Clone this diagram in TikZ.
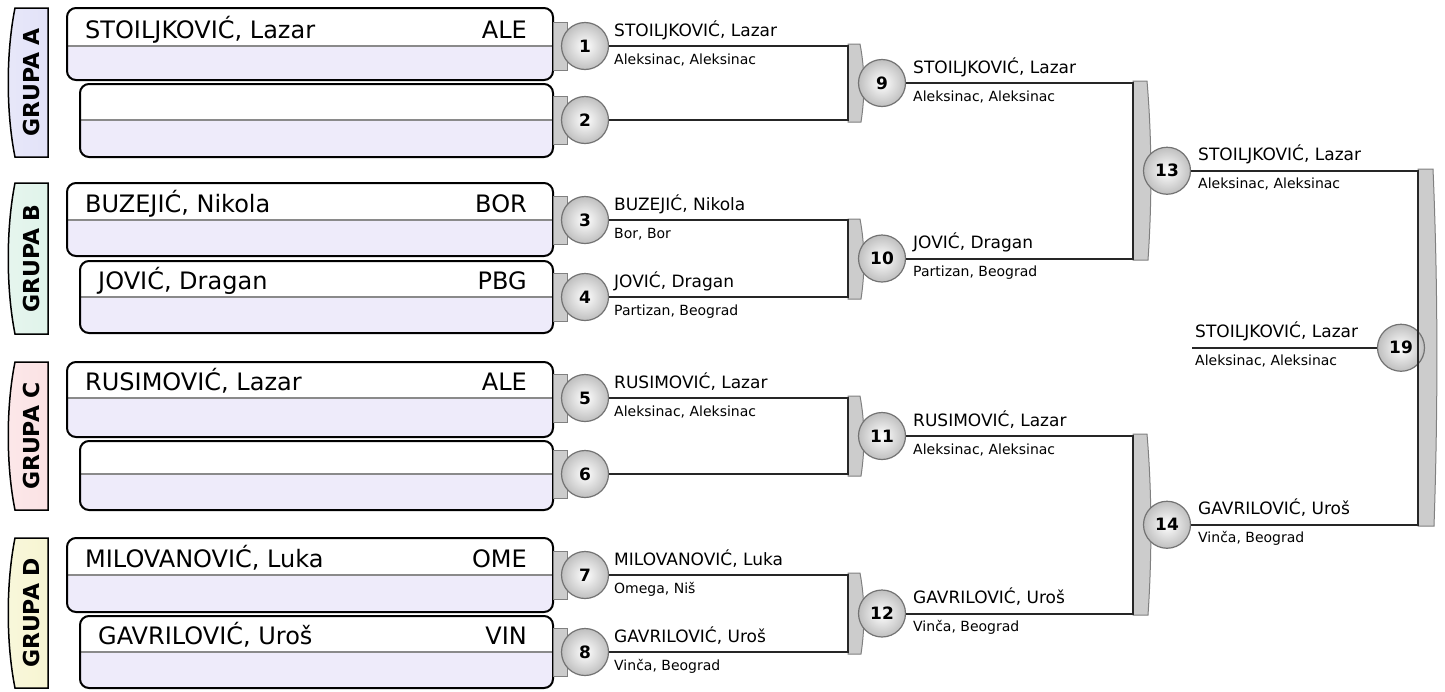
\documentclass[tikz,border=0pt]{standalone}
\usepackage{fontspec}
\setmainfont{DejaVu Sans}
\definecolor{lav}{HTML}{EEEBFA}
\definecolor{grpA}{HTML}{E2E2F8}
\definecolor{grpB}{HTML}{E0F3EA}
\definecolor{grpC}{HTML}{FBE2E4}
\definecolor{grpD}{HTML}{F7F5D2}
\definecolor{divgray}{HTML}{8A8A8A}
\tikzset{
 conn/.style={line width=2pt, draw=black!85},
 ball/.style={circle, minimum size=47pt, inner sep=0pt, draw=black!55, line width=1.2pt, inner color=white, outer color=black!25, font=\fontsize{17}{17}\selectfont\bfseries},
 pname/.style={anchor=base west, inner sep=0pt, font=\fontsize{17}{17}\selectfont},
 ploc/.style={anchor=base west, inner sep=0pt, font=\fontsize{14}{14}\selectfont},
 boxtext/.style={anchor=base west, inner sep=0pt, font=\fontsize{24}{24}\selectfont},
 boxcode/.style={anchor=base east, inner sep=0pt, font=\fontsize{24}{24}\selectfont},
 grplabel/.style={rotate=90, font=\fontsize{22}{22}\selectfont\bfseries, inner sep=0pt},
 grptab/.style={draw=black, line width=1.5pt},
 tabshape/.style={draw=black!50, fill=black!20, line width=1pt},
 pboxline/.style={draw=black, line width=2pt, rounded corners=9pt},
 divider/.style={draw=divgray, line width=1.5pt},
}
% name, xl, y0, yd, y1, text, code
\newcommand{\playerbox}[7]{%
  \begin{scope}
    \clip[rounded corners=9pt] (#2,#3) rectangle (553,#5);
    \fill[white] (#2,#3) rectangle (553,#4);
    \fill[lav] (#2,#4) rectangle (553,#5);
  \end{scope}
  \draw[divider] (#2,#4) -- (553,#4);
  \draw[pboxline] (#2,#3) rectangle (553,#5);
  \node[boxtext] (#1t) at (#2+18,#4-8) {#6};
  \node[boxcode] (#1c) at (527,#4-8) {#7};
  \draw[tabshape] (553,#4-24) rectangle (567,#4+24);
}
% name, ytop, ybot, color, label
\newcommand{\grouptab}[5]{%
  \draw[grptab, left color=#4!80!white, right color=#4] (48,#2) -- (15,#2) .. controls (6,{#2+0.3*(#3-#2)}) and (6,{#2+0.7*(#3-#2)}) .. (15,#3) -- (48,#3) -- cycle;
  \node[grplabel] (#1) at (31,{(#2+#3)/2}) {#5};
}
% x left, ytop, ybot, width
\newcommand{\brackettab}[4]{%
  \draw[tabshape] (#1,#2) -- ({#1+#4-2},#2) .. controls ({#1+#4+3},{#2+0.33*(#3-#2)}) and ({#1+#4+3},{#2+0.67*(#3-#2)}) .. ({#1+#4-1},#3) -- (#1,#3) -- cycle;
}
\begin{document}
\begin{tikzpicture}[x=1pt,y=-1pt]
\useasboundingbox (0,0) rectangle (1445,691);
\fill[white] (0,0) rectangle (1445,691);

% group tabs
\grouptab{gA}{8}{157}{grpA}{GRUPA A}
\grouptab{gB}{183}{334}{grpB}{GRUPA B}
\grouptab{gC}{362}{510}{grpC}{GRUPA C}
\grouptab{gD}{538}{688}{grpD}{GRUPA D}

% player boxes
\playerbox{b1}{67}{8}{46}{80}{STOILJKOVIĆ, Lazar}{ALE}
\playerbox{b2}{80}{84}{120}{157}{}{}
\playerbox{b3}{67}{183}{220}{256}{BUZEJIĆ, Nikola}{BOR}
\playerbox{b4}{80}{261}{297}{333}{JOVIĆ, Dragan}{PBG}
\playerbox{b5}{67}{362}{398}{437}{RUSIMOVIĆ, Lazar}{ALE}
\playerbox{b6}{80}{441}{474}{510}{}{}
\playerbox{b7}{67}{538}{575}{612}{MILOVANOVIĆ, Luka}{OME}
\playerbox{b8}{80}{616}{652}{688}{GAVRILOVIĆ, Uroš}{VIN}

% bracket tabs
\brackettab{848}{44}{122}{14}
\brackettab{848}{219}{299}{14}
\brackettab{848}{396}{476}{14}
\brackettab{848}{573}{654}{14}
\brackettab{1133}{81}{260}{16}
\brackettab{1133}{434}{615}{16}
\brackettab{1418}{169}{526}{17}

% circles
\node[ball] (c1) at (585,46) {1};
\node[ball] (c2) at (585,120) {2};
\node[ball] (c3) at (585,220) {3};
\node[ball] (c4) at (585,297) {4};
\node[ball] (c5) at (585,398) {5};
\node[ball] (c6) at (585,474) {6};
\node[ball] (c7) at (585,575) {7};
\node[ball] (c8) at (585,652) {8};
\node[ball] (c9) at (882,83) {9};
\node[ball] (c10) at (882,258.5) {10};
\node[ball] (c11) at (882,436) {11};
\node[ball] (c12) at (882,613.5) {12};
\node[ball] (c13) at (1167,170.75) {13};
\node[ball] (c14) at (1167,524.75) {14};
\node[ball] (c19) at (1401,347.75) {19};

% junctions
\coordinate (j9a) at (848,46);  \coordinate (j9b) at (848,120);
\coordinate (j10a) at (848,220); \coordinate (j10b) at (848,297);
\coordinate (j11a) at (848,398); \coordinate (j11b) at (848,474);
\coordinate (j12a) at (848,575); \coordinate (j12b) at (848,652);
\coordinate (j13a) at (1133,83);  \coordinate (j13b) at (1133,258.5);
\coordinate (j14a) at (1133,436); \coordinate (j14b) at (1133,613.5);
\coordinate (j19a) at (1418,170.75); \coordinate (j19b) at (1418,524.75);
\coordinate (fin) at (1192,347.75);

% connectors
\draw[conn] (c1) -- (j9a) -- (j9b) -- (c2);
\draw[conn] (c3) -- (j10a) -- (j10b) -- (c4);
\draw[conn] (c5) -- (j11a) -- (j11b) -- (c6);
\draw[conn] (c7) -- (j12a) -- (j12b) -- (c8);
\draw[conn] (c9) -- (j13a) -- (j13b) -- (c10);
\draw[conn] (c11) -- (j14a) -- (j14b) -- (c12);
\draw[conn] (c13) -- (j19a) -- (j19b) -- (c14);
\draw[conn] (fin) -- (c19);

% round 1 labels
\node[pname] (n1) at (614,36) {STOILJKOVIĆ, Lazar};
\node[ploc] (l1) at (614,64) {Aleksinac, Aleksinac};
\node[pname] (n3) at (614,210) {BUZEJIĆ, Nikola};
\node[ploc] (l3) at (614,238) {Bor, Bor};
\node[pname] (n4) at (614,287) {JOVIĆ, Dragan};
\node[ploc] (l4) at (614,315) {Partizan, Beograd};
\node[pname] (n5) at (614,388) {RUSIMOVIĆ, Lazar};
\node[ploc] (l5) at (614,416) {Aleksinac, Aleksinac};
\node[pname] (n7) at (614,565) {MILOVANOVIĆ, Luka};
\node[ploc] (l7) at (614,593) {Omega, Niš};
\node[pname] (n8) at (614,642) {GAVRILOVIĆ, Uroš};
\node[ploc] (l8) at (614,670) {Vinča, Beograd};

% round 2 labels
\node[pname] (n9) at (913,73) {STOILJKOVIĆ, Lazar};
\node[ploc] (l9) at (913,101) {Aleksinac, Aleksinac};
\node[pname] (n10) at (913,248.5) {JOVIĆ, Dragan};
\node[ploc] (l10) at (913,276.5) {Partizan, Beograd};
\node[pname] (n11) at (913,426) {RUSIMOVIĆ, Lazar};
\node[ploc] (l11) at (913,454) {Aleksinac, Aleksinac};
\node[pname] (n12) at (913,603.5) {GAVRILOVIĆ, Uroš};
\node[ploc] (l12) at (913,631.5) {Vinča, Beograd};

% round 3 labels
\node[pname] (n13) at (1198,160.75) {STOILJKOVIĆ, Lazar};
\node[ploc] (l13) at (1198,188.75) {Aleksinac, Aleksinac};
\node[pname] (n14) at (1198,514.75) {GAVRILOVIĆ, Uroš};
\node[ploc] (l14) at (1198,542.75) {Vinča, Beograd};

% final
\node[pname] (n19) at (1195,337.75) {STOILJKOVIĆ, Lazar};
\node[ploc] (l19) at (1195,365.75) {Aleksinac, Aleksinac};
\end{tikzpicture}
\end{document}
